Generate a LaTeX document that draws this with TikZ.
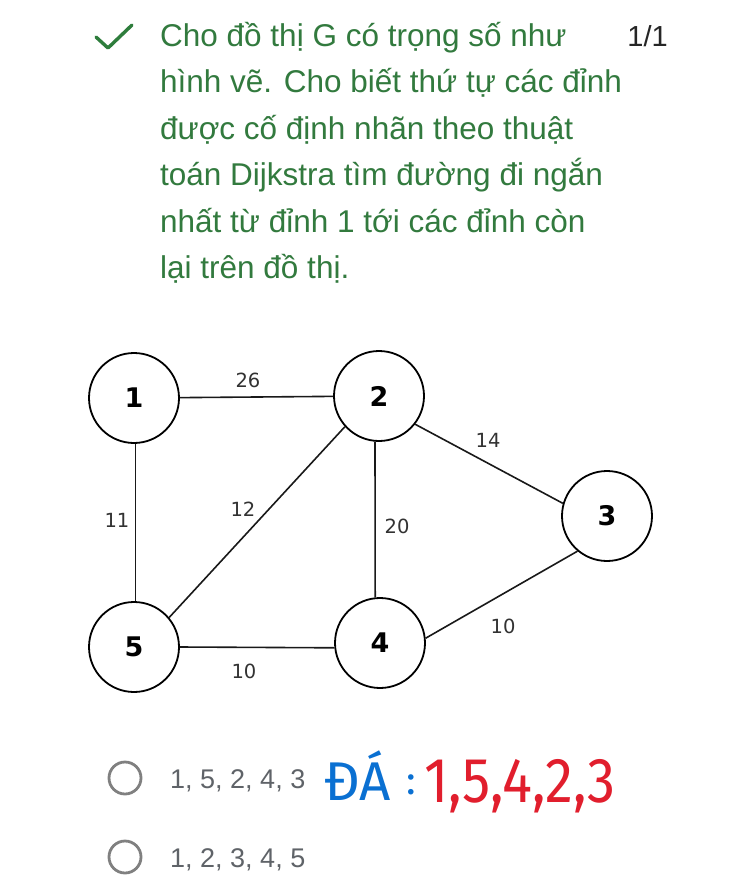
\documentclass[tikz,border=0pt]{standalone}
\usepackage{fontspec}
\usepackage{graphicx}
\setmainfont{Liberation Sans}
\newfontfamily\dejavu{DejaVu Sans}
\newfontfamily\hand{Fira Sans}
\definecolor{qgreen}{RGB}{50,122,62}
\definecolor{ckgreen}{RGB}{46,125,60}
\definecolor{optgray}{RGB}{95,99,104}
\definecolor{radiogray}{RGB}{128,128,128}
\definecolor{lblgray}{RGB}{50,50,50}
\definecolor{handblue}{RGB}{10,112,210}
\definecolor{handred}{RGB}{225,30,45}
\tikzset{
  qline/.style={anchor=base west, inner sep=0, text=qgreen, font=\fontsize{31.5}{36}\selectfont},
  vtx/.style={circle, draw=black, line width=1.8pt, minimum size=90pt, inner sep=0pt, font=\dejavu\bfseries\fontsize{27}{30}\selectfont},
  edge/.style={draw=black!90, line width=1.6pt},
  wlbl/.style={inner sep=0, text=lblgray, font=\dejavu\fontsize{19.5}{22}\selectfont},
  radio/.style={circle, draw=radiogray, line width=2.8pt, minimum size=32pt, inner sep=0pt},
  opt/.style={anchor=base west, inner sep=0, text=optgray, font=\fontsize{27}{30}\selectfont},
  handtxt/.style={anchor=base west, inner sep=0, font=\hand\fontsize{52}{56}\selectfont},
}
\begin{document}
\begin{tikzpicture}[x=1pt,y=-1pt]
\useasboundingbox[fill=white] (0,0) rectangle (750,878);
% check mark
\coordinate (c1) at (96,37);
\coordinate (c2) at (108,48);
\coordinate (c3) at (132,25);
\draw[ckgreen, line width=3.4pt, line cap=round, line join=round] (c1) -- (c2) -- (c3);
% question
\node[qline] (q1) at (160,46) {Cho đồ thị G có trọng số như};
\node[qline] (q2) at (160,92.5) {hình vẽ. Cho biết thứ tự các đỉnh};
\node[qline] (q3) at (160,139) {được cố định nhãn theo thuật};
\node[qline] (q4) at (160,185.5) {toán Dijkstra tìm đường đi ngắn};
\node[qline] (q5) at (160,232) {nhất từ đỉnh 1 tới các đỉnh còn};
\node[qline] (q6) at (160,278.5) {lại trên đồ thị.};
\node[anchor=base east, inner sep=0, text=black!85, font=\fontsize{29}{32}\selectfont] (score) at (668,46) {1/1};
% graph
\node[vtx] (n1) at (134,398) {1};
\node[vtx] (n2) at (379,396) {2};
\node[vtx] (n3) at (607,516) {3};
\node[vtx] (n4) at (380,643) {4};
\node[vtx] (n5) at (134,647) {5};
\draw[edge] (n1) -- (n2);
\draw[edge] (n1.272) -- (n5.88);
\draw[edge] (n2.222) -- (n5.40);
\draw[edge] (n2.265) -- (n4.96);
\draw[edge] (n2.-38) -- (n3.164);
\draw[edge] (n4.6) -- (n3.230);
\draw[edge] (n5.0) -- (n4.186);
\node[wlbl] (w12) at (248,380) {26};
\node[wlbl] (w23) at (488,440) {14};
\node[wlbl] (w15) at (117,520) {11};
\node[wlbl] (w25) at (243,509) {12};
\node[wlbl] (w24) at (397,526) {20};
\node[wlbl] (w43) at (503,626) {10};
\node[wlbl] (w54) at (244,671) {10};
% options
\node[radio] (r1) at (125,778) {};
\node[opt] (o1) at (170,788) {1, 5, 2, 4, 3};
\node[radio] (r2) at (125,857) {};
\node[opt] (o2) at (170,867) {1, 2, 3, 4, 5};
% handwritten answer
\node[handtxt, text=handblue] (da) at (324,800) {\scalebox{1.05}[1.05]{ĐÁ}};
\node[handtxt, text=handblue, font=\hand\fontsize{40}{44}\selectfont] (colon) at (406,794) {:};
\node[handtxt, text=handred] (ans) at (424,802) {\scalebox{1.08}[1.22]{1,5,4,2,3}};
\end{tikzpicture}
\end{document}
